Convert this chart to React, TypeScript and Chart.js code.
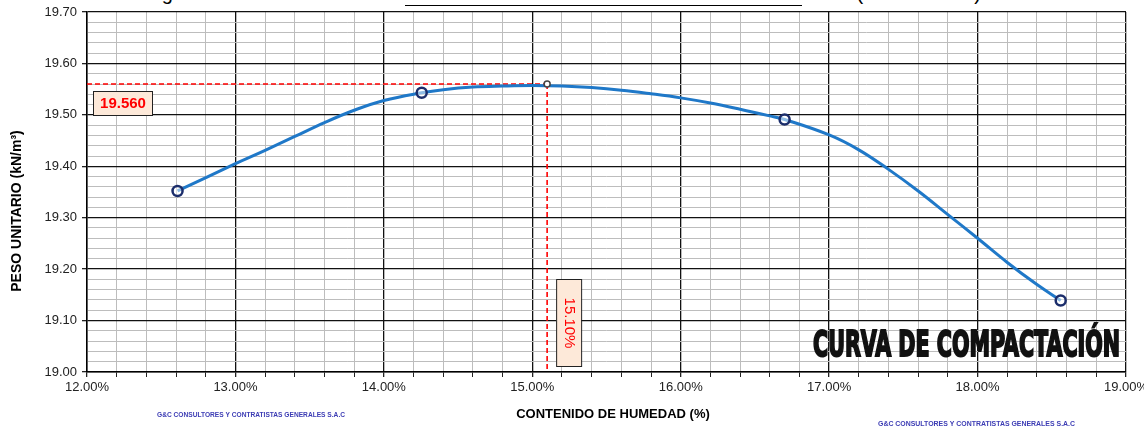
import { useEffect, useRef } from 'react';
import { Chart, registerables } from 'chart.js';

Chart.register(...registerables);

// Measured compaction points (moisture %, unit weight kN/m3)
const moisturePct = [12.61, 14.255, 16.7, 18.56];
const unitWeight = [19.352, 19.543, 19.491, 19.139];

// Smoothed curve
const curveMoisture = [12.61, 13.0, 13.2, 13.4, 13.6, 13.8, 14.0, 14.255, 14.4, 14.6, 14.8, 15.0, 15.2, 15.4, 15.6, 15.8, 16.0, 16.2, 16.4, 16.6, 16.7, 17.0, 17.2, 17.4, 17.6, 17.8, 18.0, 18.2, 18.4, 18.56];
const curveWeight = [19.352, 19.405, 19.431, 19.458, 19.485, 19.509, 19.528, 19.543, 19.549, 19.554, 19.556, 19.557, 19.556, 19.553, 19.548, 19.541, 19.533, 19.523, 19.511, 19.498, 19.491, 19.461, 19.432, 19.394, 19.352, 19.306, 19.260, 19.213, 19.170, 19.139];

// Optimum
const optimumMoisture = [15.1];
const maxUnitWeight = [19.56];

// Axes
const xRange = [12, 19];
const yRange = [19.0, 19.7];
const xStep = 0.2;
const yStep = 0.02;

const chartTitle = 'CURVA DE COMPACTACIÓN';
const xTitle = 'CONTENIDO DE HUMEDAD (%)';
const yTitle = 'PESO UNITARIO (kN/m³)';
const companyName = 'G&C CONSULTORES Y CONTRATISTAS GENERALES S.A.C';

const FONT = '"Liberation Sans", Arial, sans-serif';

const isMajorX = (v: number) => Math.abs(v - Math.round(v)) < 1e-6;
const isMajorY = (v: number) => Math.abs(v * 10 - Math.round(v * 10)) < 1e-6;

export default function App() {
  const canvasRef = useRef<HTMLCanvasElement | null>(null);

  useEffect(() => {
    document.body.style.margin = '0';
    const canvas = canvasRef.current;
    if (!canvas) return;

    const optX = optimumMoisture[0];
    const optY = maxUnitWeight[0];

    const overlay = {
      id: 'overlay',
      afterDatasetsDraw(chart: any) {
        const ctx = chart.ctx as CanvasRenderingContext2D;
        const xs = chart.scales.x;
        const ys = chart.scales.y;
        const area = chart.chartArea;
        ctx.save();
        // 19.560 box
        const b1x = area.left + 6;
        const b1y = ys.getPixelForValue(optY) + 7;
        ctx.fillStyle = '#fde9d9';
        ctx.fillRect(b1x, b1y, 59, 24);
        ctx.strokeStyle = '#222';
        ctx.lineWidth = 1;
        ctx.strokeRect(b1x + 0.5, b1y + 0.5, 59, 24);
        ctx.fillStyle = '#ff0000';
        ctx.font = `bold 15px ${FONT}`;
        ctx.textAlign = 'center';
        ctx.textBaseline = 'middle';
        ctx.fillText(optY.toFixed(3), b1x + 30, b1y + 13);

        // 15.10% box
        const b2x = xs.getPixelForValue(optX) + 9;
        const b2y = area.bottom - 93;
        ctx.fillStyle = '#fde9d9';
        ctx.fillRect(b2x, b2y, 25, 87);
        ctx.strokeStyle = '#222';
        ctx.strokeRect(b2x + 0.5, b2y + 0.5, 25, 87);
        ctx.save();
        ctx.translate(b2x + 13, b2y + 44);
        ctx.rotate(Math.PI / 2);
        ctx.fillStyle = '#ff0000';
        ctx.font = `15px ${FONT}`;
        ctx.fillText(optX.toFixed(2) + '%', 0, 0);
        ctx.restore();

        // Big title
        ctx.save();
        ctx.font = `bold 35px "DejaVu Sans Condensed", "DejaVu Sans", sans-serif`;
        const w = ctx.measureText(chartTitle).width;
        const targetW = 307;
        ctx.translate(813, 356);
        ctx.scale(targetW / w, 1);
        ctx.textAlign = 'left';
        ctx.textBaseline = 'alphabetic';
        ctx.fillStyle = '#111';
        ctx.strokeStyle = '#111';
        ctx.lineWidth = 2;
        ctx.fillText(chartTitle, 0, 0);
        ctx.strokeText(chartTitle, 0, 0);
        ctx.restore();

        // Axis titles
        ctx.fillStyle = '#000';
        ctx.font = `bold 13px ${FONT}`;
        ctx.textAlign = 'center';
        ctx.textBaseline = 'middle';
        ctx.fillText(xTitle, 613, 414);
        ctx.save();
        ctx.translate(17, 211);
        ctx.rotate(-Math.PI / 2);
        ctx.font = `bold 14px ${FONT}`;
        ctx.fillText(yTitle, 0, 0);
        ctx.restore();

        // company stamps
        ctx.fillStyle = '#3c3cb4';
        ctx.font = `bold 7px ${FONT}`;
        ctx.textAlign = 'left';
        ctx.textBaseline = 'alphabetic';
        ctx.fillText(companyName, 157, 417, 188);
        ctx.fillText(companyName, 878, 426, 197);
        ctx.restore();
      },
    };

    const chart = new Chart(canvas, {
      type: 'scatter',
      data: {
        datasets: [
          {
            label: 'Puntos',
            data: moisturePct.map((x, i) => ({ x, y: unitWeight[i] })),
            showLine: false,
            pointRadius: 5,
            pointBorderWidth: 2.5,
            pointBorderColor: '#1b2d6b',
            pointBackgroundColor: 'rgba(255,255,255,0.5)',
            order: 0,
          },
          {
            label: 'Máximo',
            data: optimumMoisture.map((x, i) => ({ x, y: maxUnitWeight[i] })),
            showLine: false,
            pointRadius: 3,
            pointBorderWidth: 1.5,
            pointBorderColor: '#444',
            pointBackgroundColor: '#fff',
            order: 1,
          },
          {
            label: 'Curva',
            data: curveMoisture.map((x, i) => ({ x, y: curveWeight[i] })),
            showLine: true,
            borderColor: '#1f78c8',
            borderWidth: 3,
            pointRadius: 0,
            tension: 0.4,
            order: 2,
          },
          {
            label: 'hRef',
            data: [
              { x: xRange[0], y: maxUnitWeight[0] },
              { x: optimumMoisture[0], y: maxUnitWeight[0] },
            ],
            showLine: true,
            borderColor: '#ff0000',
            borderWidth: 1.6,
            borderDash: [5, 3],
            pointRadius: 0,
            order: 3,
          },
          {
            label: 'vRef',
            data: [
              { x: optimumMoisture[0], y: maxUnitWeight[0] },
              { x: optimumMoisture[0], y: yRange[0] },
            ],
            showLine: true,
            borderColor: '#ff0000',
            borderWidth: 1.6,
            borderDash: [5, 3],
            pointRadius: 0,
            order: 3,
          },
        ],
      },
      options: {
        animation: false,
        responsive: true,
        maintainAspectRatio: false,
        layout: { padding: { left: 0, right: 18, top: 12, bottom: 0 } },
        plugins: { legend: { display: false }, tooltip: { enabled: false }, title: { display: false } },
        scales: {
          x: {
            type: 'linear',
            min: xRange[0],
            max: xRange[1],
            afterFit: (s: any) => {
              s.height = 57;
              s.paddingLeft = 0;
              s.paddingRight = 0;
            },
            border: { display: true, color: '#000', width: 1.5 },
            grid: {
              color: (c: any) => (c.tick && isMajorX(c.tick.value) ? '#111' : '#bdbdbd'),
              lineWidth: (c: any) => (c.tick && isMajorX(c.tick.value) ? 1.3 : 1),
              tickColor: '#222',
              tickLength: 5,
              drawTicks: true,
            },
            ticks: {
              stepSize: xStep,
              autoSkip: false,
              maxRotation: 0,
              padding: 3,
              color: '#222',
              font: { family: FONT, size: 13 },
              callback: (v: any) => (isMajorX(Number(v)) ? Number(v).toFixed(2) + '%' : ''),
            },
          },
          y: {
            type: 'linear',
            min: yRange[0],
            max: yRange[1],
            afterFit: (s: any) => {
              s.width = 87;
              s.paddingTop = 0;
              s.paddingBottom = 0;
            },
            border: { display: true, color: '#000', width: 1.5 },
            grid: {
              color: (c: any) => (c.tick && isMajorY(c.tick.value) ? '#111' : '#bdbdbd'),
              lineWidth: (c: any) => (c.tick && isMajorY(c.tick.value) ? 1.3 : 1),
              tickColor: (c: any) => (c.tick && isMajorY(c.tick.value) ? '#222' : 'rgba(0,0,0,0)'),
              tickLength: 5,
              drawTicks: true,
            },
            ticks: {
              stepSize: yStep,
              autoSkip: false,
              padding: 5,
              color: '#222',
              font: { family: FONT, size: 13 },
              callback: (v: any) => (isMajorY(Number(v)) ? Number(v).toFixed(2) : ''),
            },
          },
        },
      },
      plugins: [overlay],
    } as any);

    return () => chart.destroy();
  }, []);

  return (
    <div style={{ position: 'relative', width: 1144, height: 429, overflow: 'hidden', background: '#fff' }}>
      <div
        style={{
          position: 'absolute',
          top: -17,
          left: 0,
          width: 1144,
          height: 26,
          fontFamily: FONT,
          fontSize: 20,
          lineHeight: '20px',
          color: '#000',
          whiteSpace: 'nowrap',
        }}
      >
        <span style={{ position: 'absolute', left: 145 }}>Figura N°22:</span>
        <span style={{ position: 'absolute', left: 405, width: 397, borderBottom: '1.5px solid #000', height: 22 }}>
          Curva de Humedad – Peso Unitario
        </span>
        <span style={{ position: 'absolute', left: 812 }}>tario (Pozo de C-3)</span>
      </div>
      <canvas ref={canvasRef} style={{ position: 'absolute', left: 0, top: 0, width: 1144, height: 429 }} />
    </div>
  );
}
